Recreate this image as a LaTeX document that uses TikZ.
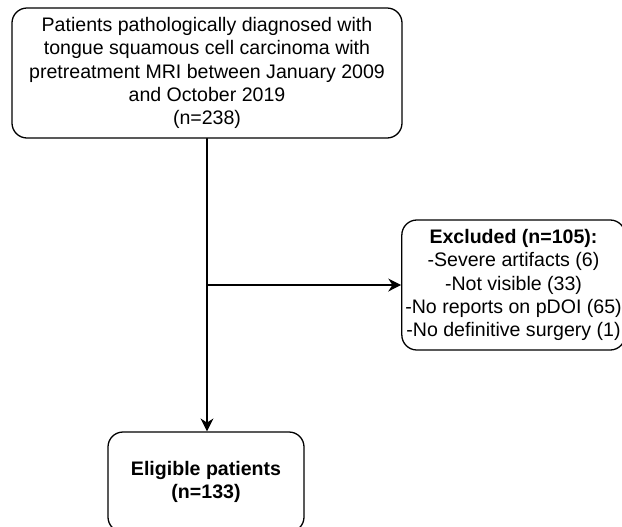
\documentclass[tikz,border=0pt]{standalone}
\usepackage{fontspec}
\setmainfont{Liberation Sans}
\usetikzlibrary{arrows.meta}

\begin{document}
\begin{tikzpicture}[x=0.03cm,y=-0.03cm,line cap=round,line join=round,
  every node/.style={inner sep=2pt},
  flowbox/.style={draw,line width=1.1pt,rounded corners=0.45cm,align=center,
    font=\fontsize{16.7}{19.8}\selectfont},
  flowarrow/.style={line width=1.1pt,-{Stealth[length=11pt,width=11pt,inset=3.5pt]}}]
  \useasboundingbox (0,0) rectangle (622,526);
  \node[flowbox,minimum width=11.7cm,minimum height=3.9cm] (diag) at (207,73)
    {Patients pathologically diagnosed with\\tongue squamous cell carcinoma with\\
     pretreatment MRI between January 2009\\and October 2019\\(n=238)};
  \node[flowbox,minimum width=6.7cm,minimum height=3.9cm] (excl) at (513.5,285)
    {\textbf{Excluded (n=105):}\\-Severe artifacts (6)\\-Not visible (33)\\
     -No reports on pDOI (65)\\-No definitive surgery (1)};
  \node[flowbox,minimum width=5.88cm,minimum height=3cm] (elig) at (206,482)
    {\textbf{Eligible patients}\\\textbf{(n=133)}};
  \coordinate (split) at (diag.south |- excl.west);
  % main line and the branch to the excluded box
  \draw[flowarrow] (diag.south) -- (diag.south |- elig.north);
  \draw[flowarrow] (split) -- (excl.west);
\end{tikzpicture}
\end{document}
